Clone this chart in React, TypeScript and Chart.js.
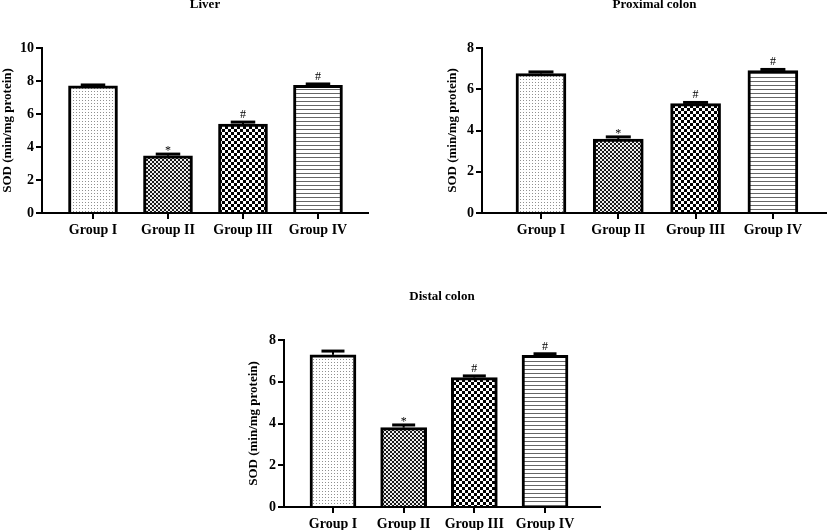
import React, { useEffect, useRef } from 'react';
import { Chart, registerables } from 'chart.js';

Chart.register(...registerables);

// ---------- data ----------
const groups = ['Group I', 'Group II', 'Group III', 'Group IV'];
const yAxisTitle = 'SOD (min/mg protein)';

const liverTitle = 'Liver';
const liverMeans = [7.7, 3.47, 5.39, 7.74];
const liverErrors = [0.06, 0.1, 0.12, 0.08];
const liverMarks = ['', '*', '#', '#'];
const liverYMax = 10;

const proximalTitle = 'Proximal colon';
const proximalMeans = [6.76, 3.59, 5.3, 6.9];
const proximalErrors = [0.08, 0.1, 0.06, 0.06];
const proximalMarks = ['', '*', '#', '#'];
const proximalYMax = 8;

const distalTitle = 'Distal colon';
const distalMeans = [7.29, 3.8, 6.2, 7.26];
const distalErrors = [0.18, 0.13, 0.08, 0.08];
const distalMarks = ['', '*', '#', '#'];
const distalYMax = 8;

const yStep = 2;

// ---------- layout specs ----------
type Spec = {
  title: string;
  means: number[];
  errors: number[];
  marks: string[];
  yMax: number;
  left: number;
  top: number;
  w: number;
  h: number;
  padLeft: number;
  padRight: number;
  yWidth: number;
  xHeight: number;
  xMin: number;
  xMax: number;
  barThickness: number;
};

const panels: Spec[] = [
  {
    title: liverTitle, means: liverMeans, errors: liverErrors, marks: liverMarks, yMax: liverYMax,
    left: 0, top: -3, w: 380, h: 248, padLeft: 0, padRight: 12, yWidth: 42, xHeight: 32,
    xMin: 0.32, xMax: 4.667, barThickness: 49,
  },
  {
    title: proximalTitle, means: proximalMeans, errors: proximalErrors, marks: proximalMarks, yMax: proximalYMax,
    left: 420, top: -3, w: 407, h: 248, padLeft: 25, padRight: 0, yWidth: 37, xHeight: 32,
    xMin: 0.237, xMax: 4.7, barThickness: 50,
  },
  {
    title: distalTitle, means: distalMeans, errors: distalErrors, marks: distalMarks, yMax: distalYMax,
    left: 240, top: 289, w: 380, h: 250, padLeft: 6, padRight: 20, yWidth: 38, xHeight: 32,
    xMin: 0.307, xMax: 4.778, barThickness: 46,
  },
];

const FONT = 'Liberation Serif';

function makePattern(kind: string): CanvasPattern | string {
  const c = document.createElement('canvas');
  const ctx = c.getContext('2d');
  if (!ctx) return '#fff';
  if (kind === 'dots') {
    c.width = 3; c.height = 3;
    ctx.fillStyle = '#fff'; ctx.fillRect(0, 0, 3, 3);
    ctx.fillStyle = '#909090'; ctx.fillRect(1, 1, 1, 1);
  } else if (kind === 'fine') {
    c.width = 4; c.height = 4;
    ctx.fillStyle = '#eeeeee'; ctx.fillRect(0, 0, 4, 4);
    ctx.fillStyle = '#1a1a1a'; ctx.fillRect(0, 0, 2, 2); ctx.fillRect(2, 2, 2, 2);
  } else if (kind === 'coarse') {
    c.width = 6; c.height = 6;
    ctx.fillStyle = '#fff'; ctx.fillRect(0, 0, 6, 6);
    ctx.fillStyle = '#000'; ctx.fillRect(0, 0, 3, 3); ctx.fillRect(3, 3, 3, 3);
  } else {
    c.width = 4; c.height = 4;
    ctx.fillStyle = '#fff'; ctx.fillRect(0, 0, 4, 4);
    ctx.fillStyle = '#666'; ctx.fillRect(0, 0, 4, 1);
  }
  return ctx.createPattern(c, 'repeat') || '#fff';
}

const errorBarPlugin = {
  id: 'errorBars',
  afterDatasetsDraw(chart: any, _args: any, opts: any) {
    const { ctx } = chart;
    const meta = chart.getDatasetMeta(0);
    const yScale = chart.scales.y;
    const data = chart.data.datasets[0].data as { x: number; y: number }[];
    ctx.save();
    meta.data.forEach((bar: any, i: number) => {
      const yTop = yScale.getPixelForValue(data[i].y + opts.errors[i]);
      const half = bar.width / 4;
      ctx.strokeStyle = '#000';
      ctx.lineWidth = 2;
      ctx.beginPath();
      ctx.moveTo(bar.x, bar.y);
      ctx.lineTo(bar.x, yTop);
      ctx.stroke();
      ctx.lineWidth = 3;
      ctx.beginPath();
      ctx.moveTo(bar.x - half, yTop);
      ctx.lineTo(bar.x + half, yTop);
      ctx.stroke();
      const m = opts.marks[i];
      if (m) {
        ctx.fillStyle = '#000';
        ctx.font = `12px "${FONT}"`;
        ctx.textAlign = 'center';
        ctx.textBaseline = 'alphabetic';
        ctx.fillText(m, bar.x, m === '*' ? yTop : yTop - 4);
      }
    });
    ctx.restore();
  },
};

function buildConfig(spec: Spec): any {
  const patterns = [makePattern('dots'), makePattern('fine'), makePattern('coarse'), makePattern('stripes')];
  return {
    type: 'bar',
    data: {
      datasets: [
        {
          data: spec.means.map((m, i) => ({ x: i + 1, y: m })),
          backgroundColor: patterns,
          borderColor: '#000',
          borderWidth: 3,
          borderSkipped: 'start',
          barThickness: spec.barThickness,
        },
      ],
    },
    options: {
      responsive: false,
      animation: false,
      events: [],
      layout: { padding: { left: spec.padLeft, right: spec.padRight, top: 0, bottom: 0 } },
      plugins: {
        legend: { display: false },
        tooltip: { enabled: false },
        title: {
          display: true,
          text: spec.title,
          fullSize: false,
          color: '#000',
          font: { family: FONT, size: 13, weight: 'bold', lineHeight: 1.2 },
          padding: { top: 0, bottom: 35.4 },
        },
        errorBars: { errors: spec.errors, marks: spec.marks },
      },
      scales: {
        x: {
          type: 'linear',
          offset: false,
          min: spec.xMin,
          max: spec.xMax,
          afterBuildTicks: (axis: any) => {
            axis.ticks = groups.map((_, i) => ({ value: i + 1 }));
          },
          afterFit: (scale: any) => {
            scale.height = spec.xHeight;
          },
          ticks: {
            autoSkip: false,
            maxRotation: 0,
            padding: 3,
            color: '#000',
            font: { family: FONT, size: 14, weight: 'bold' },
            callback: (v: number) => groups[Math.round(v) - 1] ?? '',
          },
          grid: {
            display: true,
            offset: false,
            drawOnChartArea: false,
            drawTicks: true,
            tickLength: 6,
            color: '#000',
            lineWidth: 2,
          },
          border: { display: true, color: '#000', width: 2 },
        },
        y: {
          min: 0,
          max: spec.yMax,
          afterFit: (scale: any) => {
            scale.width = spec.yWidth;
          },
          ticks: {
            stepSize: yStep,
            padding: 2,
            color: '#000',
            font: { family: FONT, size: 14, weight: 'bold' },
          },
          grid: {
            display: true,
            drawOnChartArea: false,
            drawTicks: true,
            tickLength: 6,
            color: '#000',
            lineWidth: 2,
          },
          border: { display: true, color: '#000', width: 2 },
          title: {
            display: true,
            text: yAxisTitle,
            color: '#000',
            font: { family: FONT, size: 13, weight: 'bold', lineHeight: 1.2 },
            padding: { top: 0, bottom: 0 },
          },
        },
      },
    },
    plugins: [errorBarPlugin],
  };
}

function Panel({ spec }: { spec: Spec }) {
  const ref = useRef<HTMLCanvasElement | null>(null);
  useEffect(() => {
    if (!ref.current) return;
    const chart = new Chart(ref.current, buildConfig(spec));
    return () => chart.destroy();
  }, [spec]);
  return (
    <canvas
      ref={ref}
      width={spec.w}
      height={spec.h}
      style={{ position: 'absolute', left: spec.left, top: spec.top, width: spec.w, height: spec.h }}
    />
  );
}

export default function App() {
  return (
    <div
      style={{
        position: 'absolute',
        left: 0,
        top: 0,
        width: 827,
        height: 530,
        overflow: 'hidden',
        background: '#fff',
      }}
    >
      {panels.map((p) => (
        <Panel key={p.title} spec={p} />
      ))}
    </div>
  );
}
